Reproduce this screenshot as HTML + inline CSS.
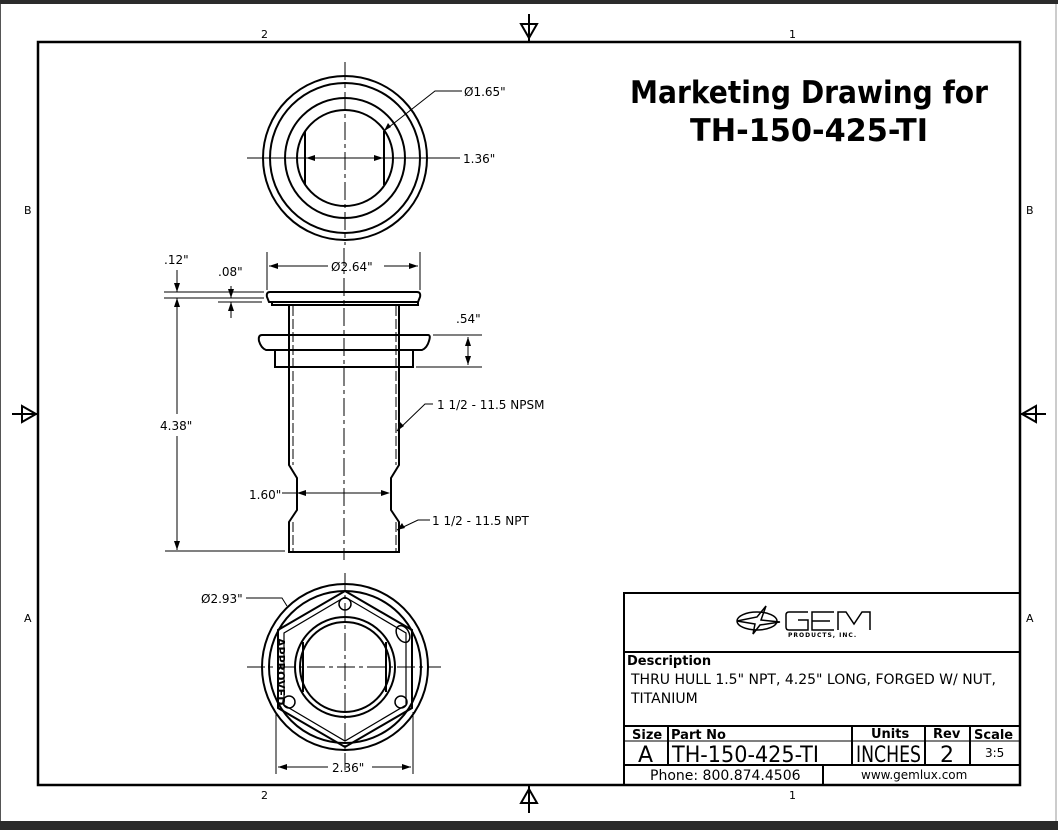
<!DOCTYPE html>
<html><head><meta charset="utf-8"><style>
html,body{margin:0;padding:0;background:#fff;}
svg{display:block;}
text{font-family:"DejaVu Sans","Liberation Sans",sans-serif;fill:#000;}
</style></head><body>
<svg width="1058" height="830" viewBox="0 0 1058 830" xmlns="http://www.w3.org/2000/svg">
<rect x="0" y="0" width="1058" height="830" fill="#fff"/>
<rect x="0" y="0" width="1058" height="4" fill="#2b2b2b"/>
<rect x="0" y="821" width="1058" height="9" fill="#2b2b2b"/>
<line x1="0.5" y1="4" x2="0.5" y2="821" stroke="#555" stroke-width="1"/>
<line x1="1056" y1="4" x2="1056" y2="821" stroke="#999" stroke-width="1"/>
<!-- frame -->
<rect x="38" y="42" width="982" height="743" fill="none" stroke="#000" stroke-width="2.5"/>
<g font-size="11">
<text x="261" y="38">2</text><text x="789" y="38">1</text>
<text x="261" y="799">2</text><text x="789" y="799">1</text>
<text x="24" y="214">B</text><text x="1026" y="214">B</text>
<text x="24" y="622">A</text><text x="1026" y="622">A</text>
</g>
<g fill="none" stroke="#000" stroke-width="2">
<path d="M529 14 V42 M521 24 L529 38 L537 24 Z"/>
<path d="M529 813 V785 M521 803 L529 789 L537 803 Z"/>
<path d="M12 414 H38 M22 406 L36 414 L22 422 Z"/>
<path d="M1046 414 H1020 M1036 406 L1022 414 L1036 422 Z"/>
</g>
<!-- title -->
<text x="630" y="103" font-size="31" font-weight="bold" textLength="358" lengthAdjust="spacingAndGlyphs">Marketing Drawing for</text>
<text x="690" y="141" font-size="31" font-weight="bold" textLength="238" lengthAdjust="spacingAndGlyphs">TH-150-425-TI</text>

<!-- TOP VIEW -->
<g fill="none" stroke="#000" stroke-width="2">
<circle cx="345" cy="158" r="82"/>
<circle cx="345" cy="158" r="75"/>
<circle cx="345" cy="158" r="60"/>
<circle cx="345" cy="158" r="48"/>
<line x1="305" y1="131" x2="305" y2="185"/>
<line x1="384" y1="131" x2="384" y2="185"/>
</g>
<g stroke="#000" stroke-width="1" fill="none">
<line x1="345" y1="62" x2="345" y2="245" stroke-dasharray="18,4,4,4"/>
<line x1="247" y1="158" x2="460" y2="158"/>
<path d="M384 131 L435 91 H462"/>
</g>
<path d="M306 158 l9 -3 v6z M383 158 l-9 -3 v6z M384 131 l4 -8 l3 4z" fill="#000"/>
<text x="464" y="96" font-size="12">Ø1.65"</text>
<text x="463" y="163" font-size="12">1.36"</text>

<!-- SIDE VIEW -->
<g fill="none" stroke="#000" stroke-width="2">
<path d="M270 292 H417 Q421 292 420 297 L418 302 H269 L267 297 Q266 292 270 292 Z"/>
<path d="M272 302 V305 H418 V302"/>
<path d="M289 305 V465 L297 478 V510 L289 522 V552 H399 V522 L391 510 V478 L399 465 V305"/>
<path d="M262 335 H428 Q431 335 429 341 Q427 348 422 350 H266 Q261 348 259 341 Q258 335 262 335 Z"/>
<path d="M275 350 V367 H413 V350"/>
</g>
<g fill="none" stroke="#000" stroke-width="1">
<line x1="293" y1="306" x2="293" y2="465" stroke-dasharray="10,3"/>
<line x1="396" y1="306" x2="396" y2="465" stroke-dasharray="10,3"/>
<line x1="293" y1="522" x2="293" y2="551" stroke-dasharray="10,3"/>
<line x1="396" y1="522" x2="396" y2="551" stroke-dasharray="10,3"/>
<line x1="344" y1="248" x2="344" y2="560" stroke-dasharray="18,4,4,4"/>
<line x1="267" y1="252" x2="267" y2="290"/><line x1="420" y1="252" x2="420" y2="290"/>
<line x1="269" y1="266" x2="328" y2="266"/><line x1="384" y1="266" x2="418" y2="266"/>
<line x1="164" y1="292" x2="264" y2="292"/><line x1="164" y1="298" x2="264" y2="298"/>
<line x1="218" y1="302" x2="262" y2="302"/>
<line x1="177" y1="270" x2="177" y2="292"/>
<line x1="177" y1="298" x2="177" y2="414"/><line x1="177" y1="436" x2="177" y2="550"/>
<line x1="165" y1="551" x2="285" y2="551"/>
<line x1="231" y1="286" x2="231" y2="298"/><line x1="231" y1="302" x2="231" y2="318"/>
<line x1="433" y1="335" x2="482" y2="335"/><line x1="416" y1="367" x2="482" y2="367"/>
<line x1="468" y1="337" x2="468" y2="365"/>
<line x1="282" y1="493" x2="387" y2="493"/>
<path d="M397 431 L425 404 H433"/>
<path d="M397 530 L418 520 H430"/>
</g>
<g fill="#000">
<path d="M269 266 l9 -3 v6z M418 266 l-9 -3 v6z"/>
<path d="M177 292 l-3 -9 h6z M177 298 l-3 9 h6z M177 550 l-3 -9 h6z"/>
<path d="M231 298 l-3 -9 h6z M231 302 l-3 9 h6z"/>
<path d="M468 337 l-3 9 h6z M468 365 l-3 -9 h6z"/>
<path d="M297 493 l9 -3 v6z M390 493 l-9 -3 v6z"/>
<path d="M397 431 l3 -9 l4 4z M397 530 l5 -7 l3 5z"/>
</g>
<g font-size="12">
<text x="164" y="264">.12"</text>
<text x="218" y="276">.08"</text>
<text x="331" y="271">Ø2.64"</text>
<text x="456" y="323">.54"</text>
<text x="160" y="430">4.38"</text>
<text x="249" y="499">1.60"</text>
<text x="437" y="409">1 1/2 - 11.5 NPSM</text>
<text x="432" y="525">1 1/2 - 11.5 NPT</text>
</g>

<!-- BOTTOM VIEW -->
<g fill="none" stroke="#000" stroke-width="2">
<circle cx="345" cy="667" r="83"/>
<circle cx="345" cy="667" r="76"/>
<path d="M345 591 L412 630 L412 708 L345 747 L278 708 L278 630 Z"/>
<path d="M345 597 L406 633 L406 705 L345 741 L284 705 L284 633 Z" stroke-width="1.2"/>
<circle cx="345" cy="667" r="50"/>
<circle cx="345" cy="667" r="45"/>
<line x1="303" y1="642" x2="303" y2="692"/>
<line x1="386" y1="642" x2="386" y2="692"/>
<circle cx="345" cy="604" r="6" stroke-width="1.5"/>
<circle cx="289" cy="702" r="6" stroke-width="1.5"/>
<circle cx="401" cy="702" r="6" stroke-width="1.5"/>
<ellipse cx="403" cy="634" rx="6" ry="9" stroke-width="1.5" transform="rotate(-30 403 634)"/>
</g>
<text transform="translate(277 638) rotate(90)" font-size="11" font-weight="bold">APPROVED</text>
<g fill="none" stroke="#000" stroke-width="1">
<line x1="345" y1="573" x2="345" y2="770" stroke-dasharray="18,4,4,4"/>
<line x1="247" y1="667" x2="441" y2="667" stroke-dasharray="18,4,4,4"/>
<path d="M246 598 H282 L287 606"/>
<line x1="276" y1="712" x2="276" y2="774"/><line x1="413" y1="712" x2="413" y2="774"/>
<line x1="278" y1="767" x2="328" y2="767"/><line x1="372" y1="767" x2="411" y2="767"/>
</g>
<path d="M278 767 l9 -3 v6z M411 767 l-9 -3 v6z" fill="#000"/>
<text x="201" y="603" font-size="12">Ø2.93"</text>
<text x="332" y="772" font-size="12">2.36"</text>

<!-- TITLE BLOCK -->
<g fill="none" stroke="#000" stroke-width="2">
<rect x="624" y="593" width="396" height="192"/>
<line x1="624" y1="652" x2="1020" y2="652"/>
<line x1="624" y1="726" x2="1020" y2="726"/>
<line x1="624" y1="765" x2="1020" y2="765"/>
<line x1="668" y1="726" x2="668" y2="765"/>
<line x1="852" y1="726" x2="852" y2="765"/>
<line x1="925" y1="726" x2="925" y2="765"/>
<line x1="970" y1="726" x2="970" y2="765"/>
<line x1="823" y1="765" x2="823" y2="785"/>
<line x1="624" y1="741" x2="1020" y2="741" stroke-width="1"/>
</g>
<g fill="none" stroke="#000" stroke-width="1.5">
<ellipse cx="757" cy="621" rx="20" ry="9"/>
<path d="M737 621 L757 617 L766 606 L761 620 L780 622 L760 625 L753 634 L755 624 Z"/>
<path d="M808 612 H789 Q786 612 786 615 V627 Q786 630 789 630 H808 V620 H798"/>
<path d="M834 612 H812 V630 H834 M812 621 H830"/>
<path d="M838 630 V612 H846 L854 624 L862 612 H870 V630"/>
</g>
<text x="788" y="637" font-size="6" font-weight="bold" letter-spacing="1">PRODUCTS, INC.</text>
<text x="627" y="665" font-size="13" font-weight="bold">Description</text>
<text x="631" y="684" font-size="14">THRU HULL 1.5" NPT, 4.25" LONG, FORGED W/ NUT,</text>
<text x="631" y="703" font-size="14">TITANIUM</text>
<g font-size="13" font-weight="bold">
<text x="632" y="739">Size</text><text x="671" y="739">Part No</text>
<text x="871" y="738">Units</text><text x="933" y="738">Rev</text><text x="974" y="739">Scale</text>
</g>
<text x="638" y="762" font-size="22">A</text>
<text x="672" y="762" font-size="22" textLength="147" lengthAdjust="spacingAndGlyphs">TH-150-425-TI</text>
<text x="856" y="762" font-size="22" textLength="65" lengthAdjust="spacingAndGlyphs">INCHES</text>
<text x="940" y="762" font-size="22">2</text>
<text x="985" y="757" font-size="12">3:5</text>
<text x="650" y="780" font-size="14">Phone: 800.874.4506</text>
<text x="861" y="779" font-size="12">www.gemlux.com</text>
</svg>
</body></html>
